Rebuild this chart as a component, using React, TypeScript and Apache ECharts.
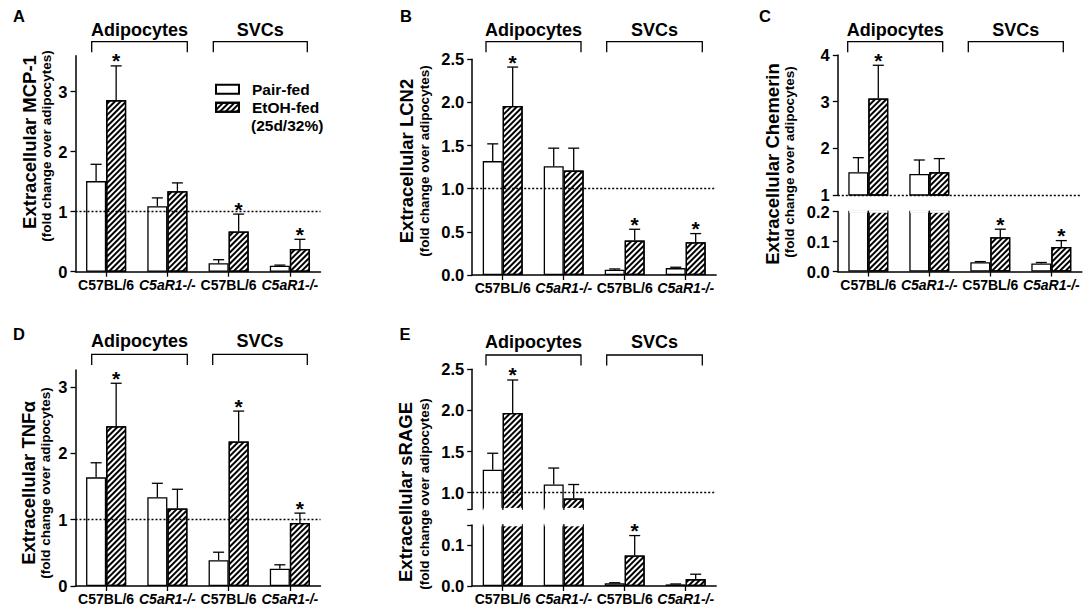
import React, { useEffect, useRef } from 'react';
import * as echarts from 'echarts';

// ---------------- data ----------------
const categories = ['C57BL/6', 'C5aR1-/-', 'C57BL/6', 'C5aR1-/-'];
const italicCategories = [false, true, false, true];
const cellGroups = ['Adipocytes', 'SVCs'];
const seriesNames = ['Pair-fed', 'EtOH-fed'];
const legendNote = '(25d/32%)';
const referenceLevel = 1;

// A: MCP-1
const mcp1PairFed = [1.51, 1.09, 0.14, 0.1];
const mcp1PairFedSem = [0.28, 0.14, 0.06, 0.01];
const mcp1EtohFed = [2.86, 1.34, 0.67, 0.38];
const mcp1EtohFedSem = [0.57, 0.14, 0.29, 0.16];
const mcp1Stars = [1, 0, 1, 1];
const mcp1Ticks = [0, 1, 2, 3];

// B: LCN2
const lcn2PairFed = [1.32, 1.26, 0.06, 0.08];
const lcn2PairFedSem = [0.2, 0.21, 0.01, 0.01];
const lcn2EtohFed = [1.96, 1.21, 0.4, 0.38];
const lcn2EtohFedSem = [0.45, 0.26, 0.13, 0.1];
const lcn2Stars = [1, 0, 1, 1];
const lcn2Ticks = [0, 0.5, 1, 1.5, 2, 2.5];

// C: Chemerin (broken axis)
const chemerinPairFed = [1.49, 1.45, 0.031, 0.027];
const chemerinPairFedSem = [0.31, 0.3, 0.002, 0.003];
const chemerinEtohFed = [3.07, 1.49, 0.114, 0.082];
const chemerinEtohFedSem = [0.71, 0.29, 0.027, 0.021];
const chemerinStars = [1, 0, 1, 1];
const chemerinUpperTicks = [1, 2, 3, 4];
const chemerinLowerTicks = [0, 0.1, 0.2];

// D: TNFα
const tnfPairFed = [1.64, 1.34, 0.39, 0.26];
const tnfPairFedSem = [0.22, 0.21, 0.12, 0.06];
const tnfEtohFed = [2.41, 1.17, 2.18, 0.95];
const tnfEtohFedSem = [0.65, 0.29, 0.46, 0.15];
const tnfStars = [1, 0, 1, 1];
const tnfTicks = [0, 1, 2, 3];

// E: sRAGE (broken axis)
const sragePairFed = [1.28, 1.1, 0.007, 0.004];
const sragePairFedSem = [0.2, 0.2, 0.001, 0.001];
const srageEtohFed = [1.97, 0.93, 0.075, 0.017];
const srageEtohFedSem = [0.4, 0.17, 0.049, 0.012];
const srageStars = [1, 0, 1, 0];
const srageUpperTicks = [0.8, 1, 1.5, 2, 2.5];
const srageUpperLabels = [1, 1.5, 2, 2.5];
const srageLowerTicks = [0, 0.1, 0.15];
const srageLowerLabels = [0, 0.1];

// ---------------- layout / style ----------------
const FONT = '"Liberation Sans", Arial, Helvetica, sans-serif';
const INK = '#000';
const GAP = 0.345;
const HATCH = {
  symbol: 'rect',
  symbolSize: 1,
  color: INK,
  dashArrayX: [1, 0],
  dashArrayY: [2, 2],
  rotation: -Math.PI / 4,
};

type Segment = {
  min: number; max: number; top: number; height: number;
  ticks: number[]; labels: number[]; decimals: number; showX: boolean;
};
type Panel = {
  letter: string; letterPos: number[];
  title: string; titlePos: number[]; subPos: number[];
  left: number; width: number;
  pair: number[]; pairSem: number[]; etoh: number[]; etohSem: number[]; stars: number[];
  segments: Segment[];
  groupLabelY: number; bracketTop: number; bracketBottom: number; brackets: number[][];
};

const panels: Panel[] = [
  {
    letter: 'A', letterPos: [19, 15.5], title: 'Extracellular MCP-1', titlePos: [29.5, 142], subPos: [46.5, 146],
    left: 75.5, width: 245,
    pair: mcp1PairFed, pairSem: mcp1PairFedSem, etoh: mcp1EtohFed, etohSem: mcp1EtohFedSem, stars: mcp1Stars,
    segments: [{ min: 0, max: 3.6, top: 55.7, height: 216, ticks: mcp1Ticks, labels: mcp1Ticks, decimals: 0, showX: true }],
    groupLabelY: 29.5, bracketTop: 41.7, bracketBottom: 52.3, brackets: [[91.7, 187.3], [213.3, 307.3]],
  },
  {
    letter: 'B', letterPos: [406, 15.5], title: 'Extracellular LCN2', titlePos: [406.7, 161], subPos: [424, 161],
    left: 472.2, width: 244,
    pair: lcn2PairFed, pairSem: lcn2PairFedSem, etoh: lcn2EtohFed, etohSem: lcn2EtohFedSem, stars: lcn2Stars,
    segments: [{ min: 0, max: 2.5, top: 59.3, height: 215.7, ticks: lcn2Ticks, labels: lcn2Ticks, decimals: 1, showX: true }],
    groupLabelY: 29.5, bracketTop: 41.7, bracketBottom: 52.3, brackets: [[486, 581], [606.7, 702.3]],
  },
  {
    letter: 'C', letterPos: [765, 15.5], title: 'Extracellular Chemerin', titlePos: [772, 164], subPos: [789, 162],
    left: 837.8, width: 244,
    pair: chemerinPairFed, pairSem: chemerinPairFedSem, etoh: chemerinEtohFed, etohSem: chemerinEtohFedSem, stars: chemerinStars,
    segments: [
      { min: 1, max: 4, top: 55, height: 140, ticks: chemerinUpperTicks, labels: chemerinUpperTicks, decimals: 0, showX: false },
      { min: 0, max: 0.2, top: 211.5, height: 60, ticks: chemerinLowerTicks, labels: chemerinLowerTicks, decimals: 1, showX: true },
    ],
    groupLabelY: 29.5, bracketTop: 41.7, bracketBottom: 52.3, brackets: [[847.7, 942.7], [968.3, 1063.3]],
  },
  {
    letter: 'D', letterPos: [19, 333.5], title: 'Extracellular TNFα', titlePos: [28.5, 483], subPos: [45.5, 483],
    left: 75.5, width: 245,
    pair: tnfPairFed, pairSem: tnfPairFedSem, etoh: tnfEtohFed, etohSem: tnfEtohFedSem, stars: tnfStars,
    segments: [{ min: 0, max: 3.26, top: 370, height: 216, ticks: tnfTicks, labels: tnfTicks, decimals: 0, showX: true }],
    groupLabelY: 341, bracketTop: 354.3, bracketBottom: 365, brackets: [[91.7, 187.3], [212.7, 307.3]],
  },
  {
    letter: 'E', letterPos: [405, 334], title: 'Extracellular sRAGE', titlePos: [405.8, 492], subPos: [424, 494],
    left: 472.2, width: 244,
    pair: sragePairFed, pairSem: sragePairFedSem, etoh: srageEtohFed, etohSem: srageEtohFedSem, stars: srageStars,
    segments: [
      { min: 0.8, max: 2.5, top: 369.3, height: 139.9, ticks: srageUpperTicks, labels: srageUpperLabels, decimals: 1, showX: false },
      { min: 0, max: 0.15, top: 525, height: 61, ticks: srageLowerTicks, labels: srageLowerLabels, decimals: 1, showX: true },
    ],
    groupLabelY: 341.7, bracketTop: 355, bracketBottom: 365.5, brackets: [[486, 581], [606.7, 702.3]],
  },
];

const barCenter = (api: any, i: number, v: number, side: number) => {
  const p = api.coord([i, v]);
  const band = api.size([1, 0])[0];
  const bw = (band * (1 - GAP)) / 2;
  return { x: p[0] + (side * bw) / 2, y: p[1], bw };
};

const errorRenderer = (side: number) => (_params: any, api: any) => {
  const i = api.value(0);
  const v = api.value(1);
  const top = api.value(2);
  const star = api.value(3);
  const base = barCenter(api, i, v, side);
  const tipY = api.coord([i, top])[1];
  const x = base.x;
  const stroke = { stroke: INK, lineWidth: 1.3 };
  const children: any[] = [];
  if (base.y - tipY > 0.5) {
    children.push({ type: 'line', shape: { x1: x, y1: base.y, x2: x, y2: tipY }, style: stroke });
  }
  children.push({ type: 'line', shape: { x1: x - 5.5, y1: tipY, x2: x + 5.5, y2: tipY }, style: stroke });
  if (star) {
    children.push({
      type: 'text', x, y: tipY - 5,
      style: { text: '*', font: `bold 21px ${FONT}`, fill: INK, textAlign: 'center', textVerticalAlign: 'middle' },
    });
  }
  return { type: 'group', children };
};

// white stroke hiding the edge where a bar is cut by the broken axis
const cutRenderer = (side: number) => (_params: any, api: any) => {
  const c = barCenter(api, api.value(0), api.value(1), side);
  return {
    type: 'line',
    shape: { x1: c.x - c.bw / 2 + 0.8, y1: c.y, x2: c.x + c.bw / 2 - 0.8, y2: c.y },
    style: { stroke: '#fff', lineWidth: 2.6 },
  };
};

function buildOption() {
  const grids: any[] = [];
  const xAxes: any[] = [];
  const yAxes: any[] = [];
  const series: any[] = [];
  const graphics: any[] = [];
  const axisLineStyle = { color: INK, width: 1.5 };
  const tickLineStyle = { color: INK, width: 1.3 };

  panels.forEach((p) => {
    p.segments.forEach((s, si) => {
      const gi = grids.length;
      const broken = p.segments.length > 1;
      const isUpper = broken && si === 0;
      const isLower = broken && si === p.segments.length - 1;
      grids.push({ left: p.left, width: p.width, top: s.top, height: s.height, containLabel: false, outerBoundsMode: 'none' });
      xAxes.push({
        gridIndex: gi,
        type: 'category',
        data: categories.map((_, i) => String(i)),
        boundaryGap: true,
        axisLine: { show: s.showX, lineStyle: axisLineStyle },
        axisTick: { show: s.showX, alignWithLabel: true, interval: 0, length: 5, lineStyle: tickLineStyle },
        axisLabel: {
          show: s.showX,
          interval: 0,
          margin: 6,
          fontSize: 14,
          fontWeight: 'bold',
          fontFamily: FONT,
          color: INK,
          formatter: (_v: string, i: number) => (italicCategories[i] ? `{i|${categories[i]}}` : `{n|${categories[i]}}`),
          rich: {
            n: { fontSize: 14, fontWeight: 'bold', fontFamily: FONT, color: INK },
            i: { fontSize: 14, fontWeight: 'bold', fontStyle: 'italic', fontFamily: FONT, color: INK },
          },
        },
        splitLine: { show: false },
      });
      yAxes.push({
        gridIndex: gi,
        type: 'value',
        min: s.min,
        max: s.max,
        axisLine: { show: true, lineStyle: axisLineStyle },
        axisTick: { show: true, length: 5, customValues: s.ticks, lineStyle: tickLineStyle },
        axisLabel: {
          customValues: s.labels,
          margin: 8,
          fontSize: 16.5,
          fontWeight: 'bold',
          fontFamily: FONT,
          color: INK,
          formatter: (v: number) => Number(v).toFixed(s.decimals),
        },
        splitLine: { show: false },
      });
      const barData = (vals: number[]) => vals.map((v) => (isUpper && v < s.min ? '-' : v));
      const inSeg = (v: number) => v >= s.min && v <= s.max;
      const hasRef = referenceLevel >= s.min && referenceLevel <= s.max;
      series.push({
        type: 'bar', name: seriesNames[0], xAxisIndex: gi, yAxisIndex: gi,
        data: barData(p.pair), barGap: '0%', barCategoryGap: `${GAP * 100}%`, clip: true,
        itemStyle: { color: '#fff', borderColor: INK, borderWidth: 1.3 },
        emphasis: { disabled: true },
      });
      series.push({
        type: 'bar', name: seriesNames[1], xAxisIndex: gi, yAxisIndex: gi,
        data: barData(p.etoh), barGap: '0%', barCategoryGap: `${GAP * 100}%`, clip: true,
        itemStyle: { color: '#fff', borderColor: INK, borderWidth: 1.3, decal: HATCH },
        emphasis: { disabled: true },
        markLine: hasRef
          ? {
              silent: true, symbol: ['none', 'none'], label: { show: false }, z: 10,
              lineStyle: { color: INK, width: 1.3, type: [2, 2] },
              data: [{ yAxis: referenceLevel }],
            }
          : undefined,
      });
      const errData = (vals: number[], sem: number[], stars: number[] | null) =>
        vals
          .map((v, i) => (inSeg(v) ? [i, v, v + sem[i], stars ? stars[i] : 0] : null))
          .filter((d) => d !== null);
      series.push({
        type: 'custom', xAxisIndex: gi, yAxisIndex: gi, z: 4, clip: false, silent: true,
        encode: { x: 0, y: 1 }, renderItem: errorRenderer(-1), data: errData(p.pair, p.pairSem, null),
      });
      series.push({
        type: 'custom', xAxisIndex: gi, yAxisIndex: gi, z: 4, clip: false, silent: true,
        encode: { x: 0, y: 1 }, renderItem: errorRenderer(1), data: errData(p.etoh, p.etohSem, p.stars),
      });
      // open ends of bars cut by the axis break
      const cutData = (vals: number[]) => {
        if (isLower) return vals.map((v, i) => (v > s.max ? [i, s.max] : null)).filter((d) => d !== null);
        if (isUpper && s.min !== referenceLevel) return vals.map((v, i) => (v > s.min ? [i, s.min] : null)).filter((d) => d !== null);
        return [];
      };
      [[-1, p.pair], [1, p.etoh]].forEach(([side, vals]: any) => {
        const d = cutData(vals);
        if (d.length) {
          series.push({
            type: 'custom', xAxisIndex: gi, yAxisIndex: gi, z: 3, clip: false, silent: true,
            encode: { x: 0, y: 1 }, renderItem: cutRenderer(side), data: d,
          });
        }
      });
    });

    // panel letter
    graphics.push({
      type: 'text', x: p.letterPos[0], y: p.letterPos[1],
      style: { text: p.letter, font: `bold 16.5px ${FONT}`, fill: INK, textAlign: 'center', textVerticalAlign: 'middle' },
    });
    // y titles
    graphics.push({
      type: 'text', x: p.titlePos[0], y: p.titlePos[1], rotation: Math.PI / 2,
      style: { text: p.title, font: `bold 18.5px ${FONT}`, fill: INK, textAlign: 'center', textVerticalAlign: 'middle' },
    });
    graphics.push({
      type: 'text', x: p.subPos[0], y: p.subPos[1], rotation: Math.PI / 2,
      style: { text: '(fold change over adipocytes)', font: `bold 13.5px ${FONT}`, fill: INK, textAlign: 'center', textVerticalAlign: 'middle' },
    });
    // group brackets
    p.brackets.forEach((b, gi2) => {
      graphics.push({
        type: 'polyline',
        shape: { points: [[b[0], p.bracketBottom], [b[0], p.bracketTop], [b[1], p.bracketTop], [b[1], p.bracketBottom]] },
        style: { stroke: INK, lineWidth: 1.3, fill: 'none' },
      });
      graphics.push({
        type: 'text', x: (b[0] + b[1]) / 2, y: p.groupLabelY,
        style: { text: cellGroups[gi2], font: `bold 18px ${FONT}`, fill: INK, textAlign: 'center', textVerticalAlign: 'middle' },
      });
    });
  });

  graphics.push({
    type: 'text', x: 251, y: 125.5,
    style: { text: legendNote, font: `bold 15.5px ${FONT}`, fill: INK, textAlign: 'left', textVerticalAlign: 'middle' },
  });

  const legendBase = {
    orient: 'vertical', left: 215, padding: 0, itemWidth: 23, itemHeight: 9, icon: 'rect', selectedMode: false,
    formatter: '{t|{name}}',
    textStyle: {
      color: INK,
      rich: { t: { fontSize: 15.5, fontWeight: 'bold', fontFamily: FONT, color: INK, padding: [0, 0, 0, 8] } },
    },
  };

  return {
    animation: false,
    backgroundColor: '#fff',
    textStyle: { fontFamily: FONT },
    grid: grids,
    xAxis: xAxes,
    yAxis: yAxes,
    series,
    legend: [
      { ...legendBase, top: 81.3, data: [seriesNames[0]] },
      { ...legendBase, top: 99.3, data: [seriesNames[1]] },
    ],
    graphic: graphics,
  };
}

export default function App() {
  const ref = useRef<HTMLDivElement>(null);
  useEffect(() => {
    if (!ref.current) return;
    const chart = echarts.init(ref.current, null, { renderer: 'svg' });
    chart.setOption(buildOption() as any);
    return () => chart.dispose();
  }, []);
  return (
    <div
      ref={ref}
      style={{ position: 'fixed', left: 0, top: 0, width: 1084, height: 610, background: '#fff' }}
    />
  );
}
